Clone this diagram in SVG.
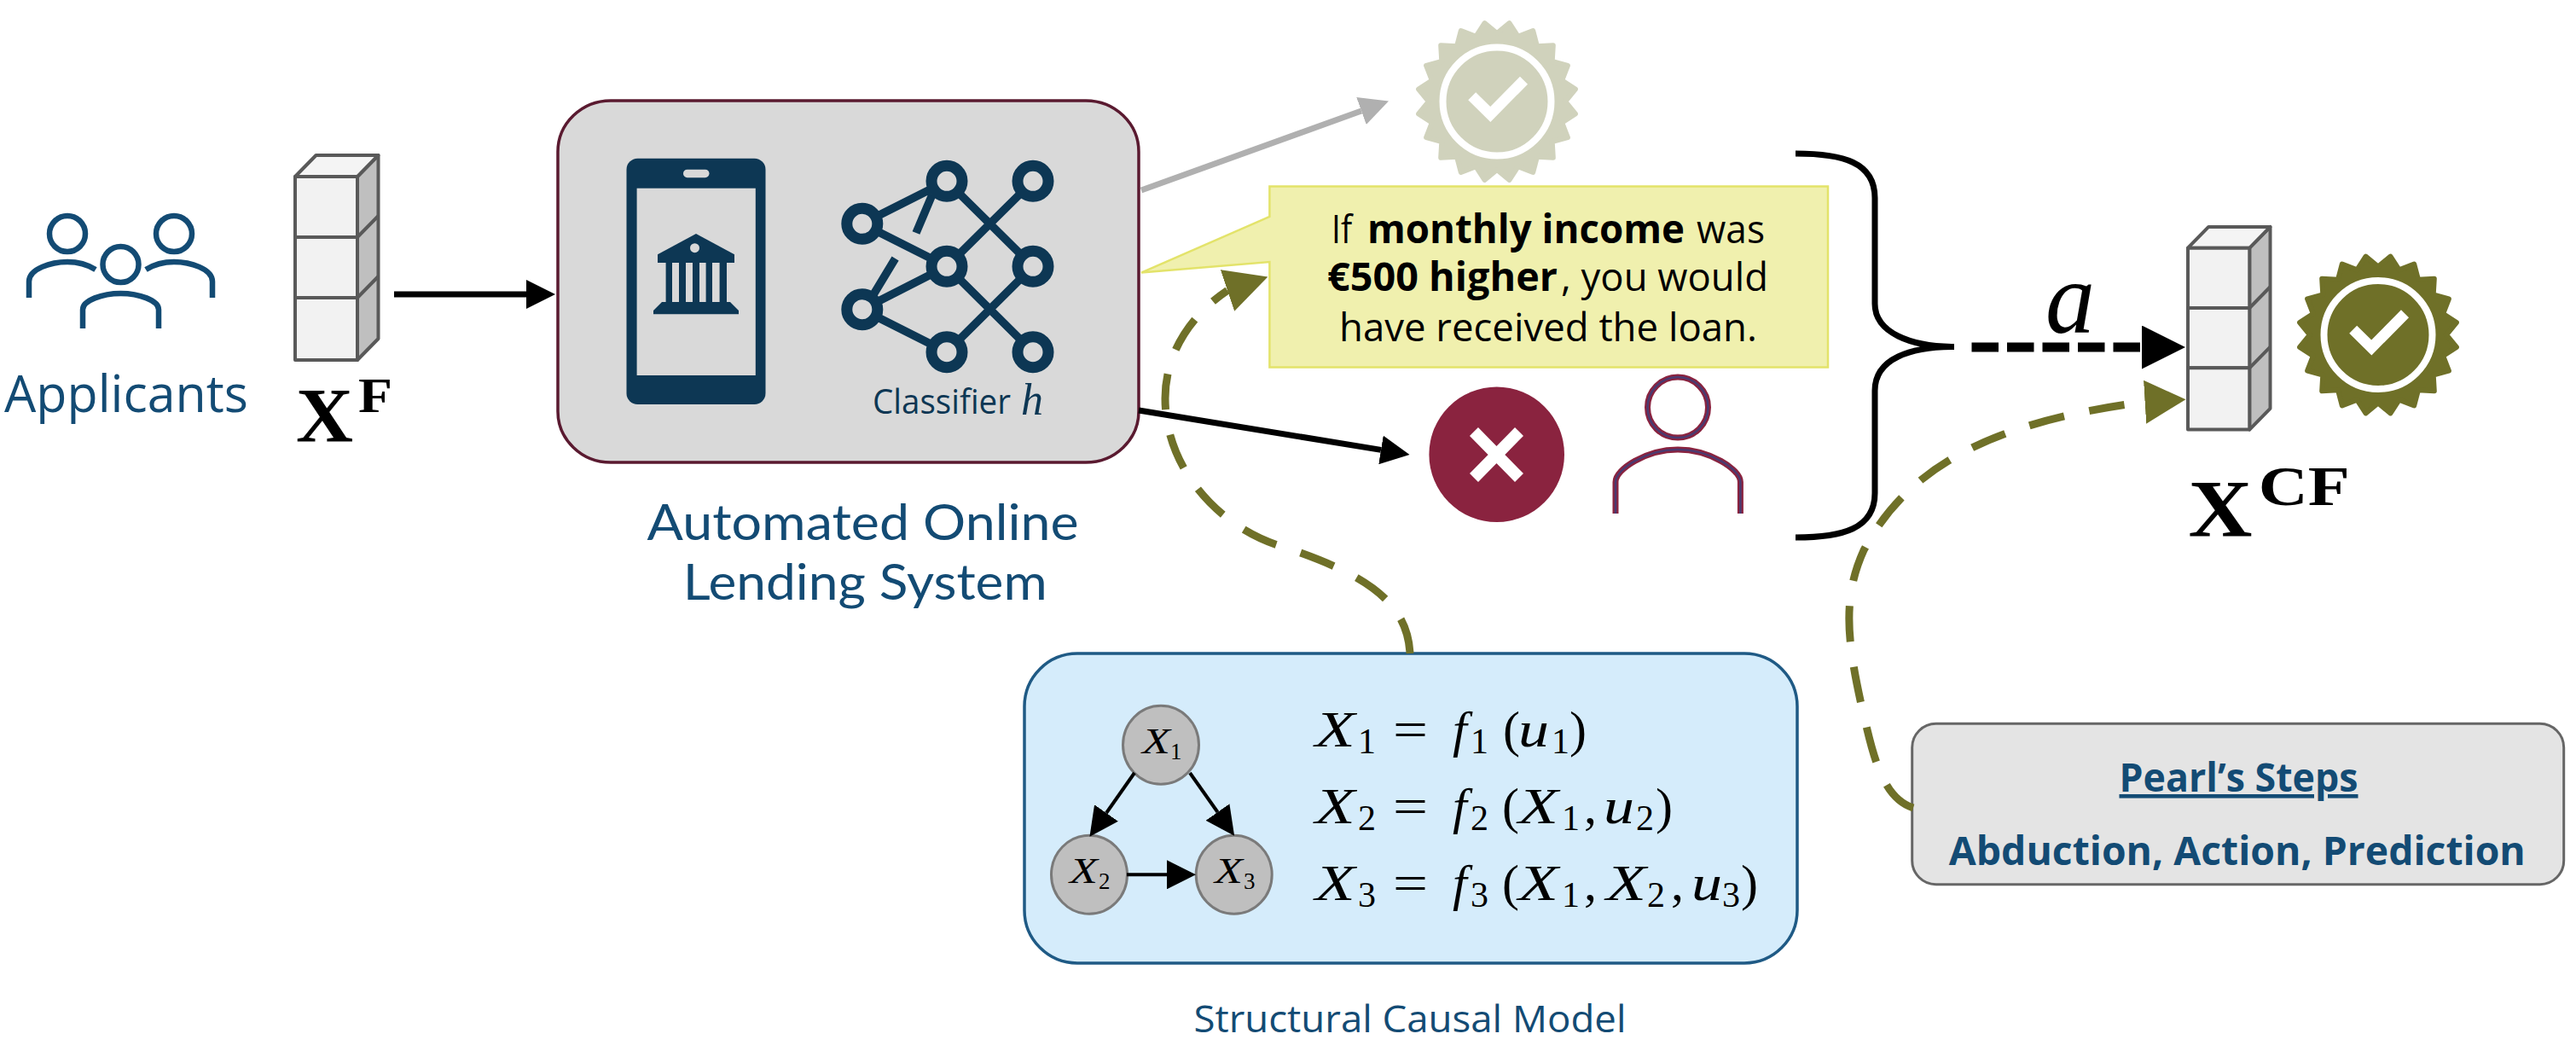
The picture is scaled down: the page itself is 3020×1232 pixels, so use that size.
<svg xmlns="http://www.w3.org/2000/svg" width="3020" height="1232" viewBox="0 0 3020 1232">
<style>
text{font-family:"Open Sans","Noto Sans","Liberation Sans",sans-serif;fill:#134b74}
text.bx{font-family:"Liberation Serif","DejaVu Serif",serif;fill:#000;font-weight:700}
text.lato{font-family:Lato,"Open Sans",sans-serif}
.m{font-size:60px;fill:#000}
.m tspan,.nl tspan{font-family:"Liberation Serif","DejaVu Serif",serif}
.i{font-style:italic}
.s{font-size:42px}
.nl{font-size:42px;fill:#000}
.nl .s{font-size:27px}
.cb{stroke:#595959;stroke-width:4;stroke-linejoin:round}
.front{fill:#f2f2f2}.side{fill:#bfbfbf}.top{fill:#f4f4f4}
.ppl{fill:none;stroke:#134b74;stroke-width:6.5}
.net{stroke:#0d3754;stroke-width:9.5;fill:none}
.nd{fill:#d9d9d9;stroke:#0d3754;stroke-width:13}
.dk{fill:#0d3754}
.call{font-size:46px;fill:#000}
.b{font-weight:700}
.scmn{fill:#bfbfbf;stroke:#7a7a7a;stroke-width:3}
.ol{fill:none;stroke:#6f7028;stroke-width:9;stroke-dasharray:42 30}
.tick{fill:none;stroke:#fff;stroke-width:12.7}
.ring{fill:none;stroke:#fff;stroke-width:8}
</style>
<defs>
<marker id="hb" markerUnits="userSpaceOnUse" markerWidth="34" markerHeight="34" refX="0" refY="17" orient="auto" viewBox="0 0 34 34"><path d="M0 0L34 17L0 34Z" fill="#000"/></marker>
<marker id="hg" markerUnits="userSpaceOnUse" markerWidth="34" markerHeight="34" refX="0" refY="17" orient="auto" viewBox="0 0 34 34"><path d="M0 0L34 17L0 34Z" fill="#b0b0b0"/></marker>
<marker id="hB" markerUnits="userSpaceOnUse" markerWidth="51" markerHeight="51" refX="0" refY="25.5" orient="auto" viewBox="0 0 51 51"><path d="M0 0L51 25.5L0 51Z" fill="#000"/></marker>
<marker id="ho1" markerUnits="userSpaceOnUse" markerWidth="50" markerHeight="51" refX="0" refY="25.5" orient="-18.7" viewBox="0 0 50 51"><path d="M0 0L50 25.5L0 51Z" fill="#6f7028"/></marker>
<marker id="ho2" markerUnits="userSpaceOnUse" markerWidth="48" markerHeight="51" refX="0" refY="25.5" orient="-3.5" viewBox="0 0 48 51"><path d="M0 0L48 25.5L0 51Z" fill="#6f7028"/></marker>
<path id="seal" stroke-width="6" stroke-linejoin="round" d="M0 -80L14.5 -91.9 24.7 -76.1 42.2 -82.9 47 -64.7 65.8 -65.8 64.7 -47 82.9 -42.2 76.1 -24.7 91.9 -14.5 80 0 91.9 14.5 76.1 24.7 82.9 42.2 64.7 47 65.8 65.8 47 64.7 42.2 82.9 24.7 76.1 14.5 91.9 0 80 -14.5 91.9 -24.7 76.1 -42.2 82.9 -47 64.7 -65.8 65.8 -64.7 47 -82.9 42.2 -76.1 24.7 -91.9 14.5 -80 0 -91.9 -14.5 -76.1 -24.7 -82.9 -42.2 -64.7 -47 -65.8 -65.8 -47 -64.7 -42.2 -82.9 -24.7 -76.1 -14.5 -91.9Z"/>
<g id="cubeshape">
<polygon class="cb side" points="73,0 97.5,-25 97.5,190 73,215"/>
<polygon class="cb top" points="0,0 24.5,-25 97.5,-25 73,0"/>
<rect class="cb front" x="0" y="0" width="73" height="71"/>
<rect class="cb front" x="0" y="71" width="73" height="71"/>
<rect class="cb front" x="0" y="142" width="73" height="73"/>
<path class="cb" fill="none" d="M73 71L97.5 46M73 142L97.5 117"/>
</g>
</defs>
<rect width="3020" height="1232" fill="#fff"/>

<g id="applicants">
<circle class="ppl" cx="79" cy="274" r="21"/><circle class="ppl" cx="204" cy="274" r="21"/><circle class="ppl" cx="141.500" cy="310" r="21"/>
<path class="ppl" d="M34 349V330C34 315 60 307 79 307C92 307 104 311 112 316M249 349V330C249 315 223 307 204 307C191 307 179 311 171 316M97 385V363C97 352 120 344 141.500 344C163 344 186 352 186 363V385"/>
<text x="5" y="483" font-size="60" textLength="286" lengthAdjust="spacingAndGlyphs">Applicants</text>
</g>
<g id="xf">
<use href="#cubeshape" transform="translate(346 207)"/>
<text class="bx" font-size="90"><tspan x="347" y="518" textLength="67" lengthAdjust="spacingAndGlyphs">X</tspan><tspan x="420" y="483" font-size="58" textLength="40" lengthAdjust="spacingAndGlyphs">F</tspan></text>
</g>
<g id="lending-system">
<rect x="654" y="118" width="681" height="424" rx="62" ry="60" fill="#d9d9d9" stroke="#5a1a30" stroke-width="3.500"/>
<g id="phone">
<rect class="dk" x="734.500" y="185.700" width="163" height="288.300" rx="13"/>
<rect x="746.600" y="220.700" width="139.200" height="219.300" fill="#d9d9d9"/>
<rect x="801" y="198.700" width="30.500" height="9.500" rx="4.700" fill="#d9d9d9"/>
<path class="dk" d="M816 274L861 298.300V308H771V298.300Z"/>
<circle cx="814.500" cy="290.700" r="5.500" fill="#d9d9d9"/>
<path class="dk" d="M780.600 308h7.400v46h-7.400zM796 308h8v46h-8zM812 308h8v46h-8zM827.600 308h7.400v46h-7.400zM843.600 308h8.400v46h-8.400zM776 354H856L866 364V368.300H766V364Z"/>
</g>
<g id="classifier">
<path class="net" d="M1010.800 262.300L1110 212.300M1010.800 262.300L1110 312.300M1010.800 362.700L1110 312.300M1010.800 362.700L1110 412.700M1110 212.300L1211 312.300M1211 212.300L1110 312.300M1110 312.300L1211 412.700M1211 312.300L1110 412.700M1093 228L1074 273M1049.600 303L1023 347"/>
<circle class="nd" cx="1010.800" cy="262.300" r="18"/><circle class="nd" cx="1010.800" cy="362.700" r="18"/>
<circle class="nd" cx="1110" cy="212.300" r="18"/><circle class="nd" cx="1110" cy="312.300" r="18"/><circle class="nd" cx="1110" cy="412.700" r="18"/>
<circle class="nd" cx="1211" cy="212.300" r="18"/><circle class="nd" cx="1211" cy="312.300" r="18"/><circle class="nd" cx="1211" cy="412.700" r="18"/>
<text font-size="40" style="fill:#0d3754"><tspan x="1023" y="485" textLength="162" lengthAdjust="spacingAndGlyphs">Classifier</tspan> <tspan x="1197" y="486" font-size="52" font-style="italic" style="font-family:'Liberation Serif',serif">h</tspan></text>
</g>
<text class="lato" x="758.600" y="632.700" font-size="58" textLength="506" lengthAdjust="spacingAndGlyphs">Automated Online</text>
<text class="lato" x="800.700" y="702.700" font-size="58" textLength="427" lengthAdjust="spacingAndGlyphs">Lending System</text>
</g>
<g id="approved-faded" transform="translate(1755 119)">
<use href="#seal" fill="#d0d2bc" stroke="#d0d2bc"/><circle class="ring" r="63.500"/><path class="tick" d="M-29.300 -6.300L-7.700 15L31.500 -24.800"/>
</g>
<g id="explanation">
<path d="M1488.400 218.400H2143V430.600H1488.400V307L1338 319.600L1488.400 254Z" fill="#f0f0ae" stroke="#e3e36a" stroke-width="2.500"/>
<text class="call" y="285"><tspan x="1561" textLength="24" lengthAdjust="spacingAndGlyphs">If</tspan> <tspan class="b" x="1603" textLength="372" lengthAdjust="spacingAndGlyphs">monthly income</tspan> <tspan x="1989" textLength="80" lengthAdjust="spacingAndGlyphs">was</tspan></text>
<text class="call" y="341"><tspan class="b" x="1556" textLength="270" lengthAdjust="spacingAndGlyphs">€500 higher</tspan><tspan x="1830" textLength="243" lengthAdjust="spacingAndGlyphs">, you would</tspan></text>
<text class="call" x="1570" y="400" textLength="490" lengthAdjust="spacingAndGlyphs">have received the loan.</text>
</g>
<g id="rejected">
<circle cx="1754.700" cy="532.700" r="79.300" fill="#8a233f"/>
<path d="M1728 506L1781 560M1781 506L1728 560" stroke="#fff" stroke-width="14" fill="none"/>
</g>
<g id="person" fill="none">
<circle cx="1967" cy="477.600" r="35.500" stroke="#8a233f" stroke-width="7"/>
<path d="M1894 602V565C1894 550 1930 527 1967 527C2004 527 2040.400 550 2040.400 565V602" stroke="#8a233f" stroke-width="7"/>
<circle cx="1967" cy="477.600" r="35.500" stroke="#4a3a70" stroke-width="2.500"/>
<path d="M1894 602V565C1894 550 1930 527 1967 527C2004 527 2040.400 550 2040.400 565V602" stroke="#4a3a70" stroke-width="2.500"/>
</g>
<g id="brace" fill="none" stroke="#000" stroke-width="7">
<path d="M2105 180C2160 180 2198 190 2198 232V356C2198 390 2240 406.500 2291 406.500C2240 406.500 2198 420 2198 458V578C2198 620 2160 630 2105 630"/>
</g>
<g id="xcf">
<use href="#cubeshape" transform="translate(2565 290.700) scale(.99 .99)"/>
<text class="bx" font-size="95"><tspan x="2565.500" y="629.300" textLength="75" lengthAdjust="spacingAndGlyphs">X</tspan><tspan x="2647.700" y="591.700" font-size="66" textLength="107" lengthAdjust="spacingAndGlyphs">CF</tspan></text>
</g>
<g id="approved" transform="translate(2788 392.500)">
<use href="#seal" fill="#6f7028" stroke="#6f7028"/><circle class="ring" r="63.500"/><path class="tick" d="M-29.300 -6.300L-7.700 15L31.500 -24.800"/>
</g>
<g id="scm">
<rect x="1201" y="766" width="906" height="363" rx="62" fill="#d5ecfb" stroke="#1f5a85" stroke-width="3.500"/>
<ellipse id="scm-x1" class="scmn" cx="1361" cy="873.300" rx="44.500" ry="46"/>
<ellipse id="scm-x2" class="scmn" cx="1277" cy="1025.300" rx="44.500" ry="46"/>
<ellipse id="scm-x3" class="scmn" cx="1446.700" cy="1025.300" rx="44.500" ry="46"/>
<text class="nl"><tspan class="i" x="1339" y="883" textLength="33" lengthAdjust="spacingAndGlyphs">X</tspan><tspan class="s" x="1372" y="890">1</tspan></text>
<text class="nl"><tspan class="i" x="1254" y="1035" textLength="33" lengthAdjust="spacingAndGlyphs">X</tspan><tspan class="s" x="1288" y="1042">2</tspan></text>
<text class="nl"><tspan class="i" x="1424" y="1035" textLength="33" lengthAdjust="spacingAndGlyphs">X</tspan><tspan class="s" x="1458" y="1042">3</tspan></text>
<g fill="none" stroke="#000" stroke-width="4">
<path marker-end="url(#hb)" d="M1330 906L1297 953"/>
<path marker-end="url(#hb)" d="M1395 906L1427.500 952"/>
<path marker-end="url(#hb)" d="M1321 1025.300H1368"/>
</g>
<text class="m"><tspan class="i" x="1541.800" y="875" textLength="47" lengthAdjust="spacingAndGlyphs">X</tspan><tspan class="s" x="1592" y="883">1</tspan><tspan x="1633" y="875" textLength="41" lengthAdjust="spacingAndGlyphs">=</tspan><tspan class="i" x="1703" y="875">f</tspan><tspan class="s" x="1724" y="883">1</tspan><tspan x="1762" y="875">(</tspan><tspan class="i" x="1780" y="875" textLength="36" lengthAdjust="spacingAndGlyphs">u</tspan><tspan class="s" x="1819" y="883">1</tspan><tspan x="1840" y="875">)</tspan></text>
<text class="m"><tspan class="i" x="1541.800" y="965" textLength="47" lengthAdjust="spacingAndGlyphs">X</tspan><tspan class="s" x="1592" y="973">2</tspan><tspan x="1633" y="965" textLength="41" lengthAdjust="spacingAndGlyphs">=</tspan><tspan class="i" x="1703" y="965">f</tspan><tspan class="s" x="1724" y="973">2</tspan><tspan x="1761" y="965">(</tspan><tspan class="i" x="1780" y="965" textLength="47" lengthAdjust="spacingAndGlyphs">X</tspan><tspan class="s" x="1831" y="973">1</tspan><tspan x="1857" y="965">,</tspan><tspan class="i" x="1880" y="965" textLength="36" lengthAdjust="spacingAndGlyphs">u</tspan><tspan class="s" x="1918" y="973">2</tspan><tspan x="1941" y="965">)</tspan></text>
<text class="m"><tspan class="i" x="1541.800" y="1055" textLength="47" lengthAdjust="spacingAndGlyphs">X</tspan><tspan class="s" x="1592" y="1063">3</tspan><tspan x="1633" y="1055" textLength="41" lengthAdjust="spacingAndGlyphs">=</tspan><tspan class="i" x="1703" y="1055">f</tspan><tspan class="s" x="1724" y="1063">3</tspan><tspan x="1761" y="1055">(</tspan><tspan class="i" x="1780" y="1055" textLength="47" lengthAdjust="spacingAndGlyphs">X</tspan><tspan class="s" x="1831" y="1063">1</tspan><tspan x="1857" y="1055">,</tspan><tspan class="i" x="1883" y="1055" textLength="47" lengthAdjust="spacingAndGlyphs">X</tspan><tspan class="s" x="1931" y="1063">2</tspan><tspan x="1959" y="1055">,</tspan><tspan class="i" x="1983" y="1055" textLength="36" lengthAdjust="spacingAndGlyphs">u</tspan><tspan class="s" x="2019" y="1063">3</tspan><tspan x="2041" y="1055">)</tspan></text>
<text x="1399.400" y="1210" font-size="44" textLength="507" lengthAdjust="spacingAndGlyphs">Structural Causal Model</text>
</g>
<g id="pearl">
<rect x="2241.700" y="848.300" width="764" height="188.400" rx="28" fill="#e4e4e4" stroke="#666" stroke-width="3"/>
<text x="2484.500" y="928" font-size="46" font-weight="700" textLength="280" lengthAdjust="spacingAndGlyphs" text-decoration="underline">Pearl’s Steps</text>
<text x="2284.800" y="1014" font-size="46" font-weight="700" textLength="676" lengthAdjust="spacingAndGlyphs">Abduction, Action, Prediction</text>
</g>
<g id="connectors" fill="none">
<path stroke="#000" stroke-width="7" marker-end="url(#hb)" d="M462 345H617"/>
<path stroke="#b0b0b0" stroke-width="7" marker-end="url(#hg)" d="M1338 223L1596 130"/>
<path stroke="#000" stroke-width="7" marker-end="url(#hb)" d="M1335 481L1619 527.400"/>
<path stroke="#000" stroke-width="11" stroke-dasharray="31.500 10" marker-end="url(#hB)" d="M2311.500 407H2511"/>
<path class="ol" marker-end="url(#ho1)" d="M1653 766C1650 705 1600 672 1498 639C1430 617 1366 550 1366 467C1366 415 1395 370 1439 340.500"/>
<path class="ol" marker-end="url(#ho2)" d="M2243 947C2205 935 2195 880 2183 830C2165 750 2160 700 2185 645C2235 550 2330 495 2514.600 471.200"/>
</g>
<text x="2398" y="390" font-size="120" textLength="58" lengthAdjust="spacingAndGlyphs" style="font-family:'Liberation Serif',serif;fill:#000;font-style:italic">a</text>
</svg>
